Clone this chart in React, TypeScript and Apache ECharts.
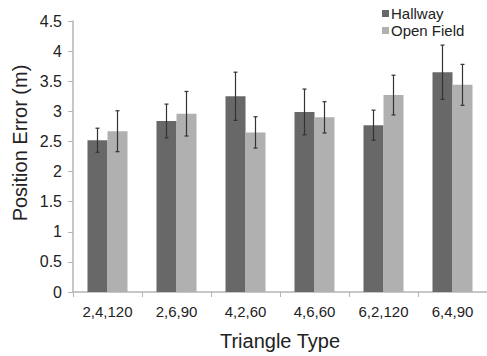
import React, { useEffect, useRef } from "react";
import * as echarts from "echarts";

const categories = ["2,4,120", "2,6,90", "4,2,60", "4,6,60", "6,2,120", "6,4,90"];
const hallway = [2.52, 2.84, 3.25, 2.99, 2.77, 3.65];
const hallwayErr = [0.2, 0.28, 0.4, 0.38, 0.25, 0.45];
const openField = [2.67, 2.96, 2.65, 2.9, 3.27, 3.44];
const openFieldErr = [0.34, 0.37, 0.26, 0.26, 0.33, 0.34];

const FONT = "'Liberation Sans', Arial, sans-serif";

function errSeries(values: number[], errs: number[], offset: number) {
  return {
    type: "custom",
    silent: true,
    z: 10,
    data: values.map((v, i) => [i, v - errs[i], v + errs[i]]),
    renderItem: (params: any, api: any) => {
      const idx = api.value(0);
      const lo = api.coord([idx, api.value(1)]);
      const hi = api.coord([idx, api.value(2)]);
      const x = lo[0] + offset;
      const cap = 2;
      const style = { stroke: "#333", lineWidth: 1.2 };
      return {
        type: "group",
        children: [
          { type: "line", shape: { x1: x, y1: lo[1], x2: x, y2: hi[1] }, style },
          { type: "line", shape: { x1: x - cap, y1: lo[1], x2: x + cap, y2: lo[1] }, style },
          { type: "line", shape: { x1: x - cap, y1: hi[1], x2: x + cap, y2: hi[1] }, style },
        ],
      };
    },
  };
}

export default function App() {
  const ref = useRef<HTMLDivElement>(null);
  useEffect(() => {
    if (!ref.current) return;
    const chart = echarts.init(ref.current, null, { renderer: "svg" });
    chart.setOption({
      animation: false,
      backgroundColor: "#fff",
      textStyle: { fontFamily: FONT },
      legend: {
        orient: "vertical",
        left: 377,
        top: 1,
        itemWidth: 7,
        itemHeight: 7,
        itemGap: 2,
        icon: "rect",
        data: ["Hallway", "Open Field"],
        textStyle: { fontSize: 15, color: "#222", fontFamily: FONT, padding: [0, 0, 0, -3] },
      },
      graphic: [
        {
          type: "text",
          x: 20,
          y: 143,
          rotation: Math.PI / 2,
          style: {
            text: "Position Error (m)",
            fontSize: 20,
            fill: "#222",
            fontFamily: FONT,
            align: "center",
            verticalAlign: "middle",
          },
        },
      ],
      grid: { left: 73, top: 21, width: 417.5, bottom: 62, containLabel: false },
      xAxis: {
        type: "category",
        data: categories,
        axisLine: { show: true, lineStyle: { color: "#b5b5b5", width: 1.5 } },
        axisTick: { show: true, length: 5, lineStyle: { color: "#b5b5b5" } },
        axisLabel: { fontSize: 15, color: "#222", margin: 12, fontFamily: FONT },
        name: "Triangle Type",
        nameLocation: "middle",
        nameGap: 39,
        nameTextStyle: { fontSize: 20, color: "#222", fontFamily: FONT },
      },
      yAxis: {
        type: "value",
        min: 0,
        max: 4.5,
        interval: 0.5,
        splitLine: { show: false },
        axisLine: { show: true, lineStyle: { color: "#b5b5b5", width: 1.5 } },
        axisTick: { show: true, length: 5, lineStyle: { color: "#b5b5b5" } },
        axisLabel: { fontSize: 16, color: "#222", margin: 11, fontFamily: FONT },
      },
      series: [
        {
          name: "Hallway",
          type: "bar",
          data: hallway,
          barWidth: 20,
          barGap: "0%",
          itemStyle: { color: "#686868" },
        },
        {
          name: "Open Field",
          type: "bar",
          data: openField,
          barWidth: 20,
          barGap: "0%",
          itemStyle: { color: "#b0b0b0" },
        },
        errSeries(hallway, hallwayErr, -10),
        errSeries(openField, openFieldErr, 10),
      ],
    });
    return () => chart.dispose();
  }, []);
  return <div ref={ref} style={{ width: 487, height: 356, position: "absolute", left: 0, top: 0 }} />;
}
